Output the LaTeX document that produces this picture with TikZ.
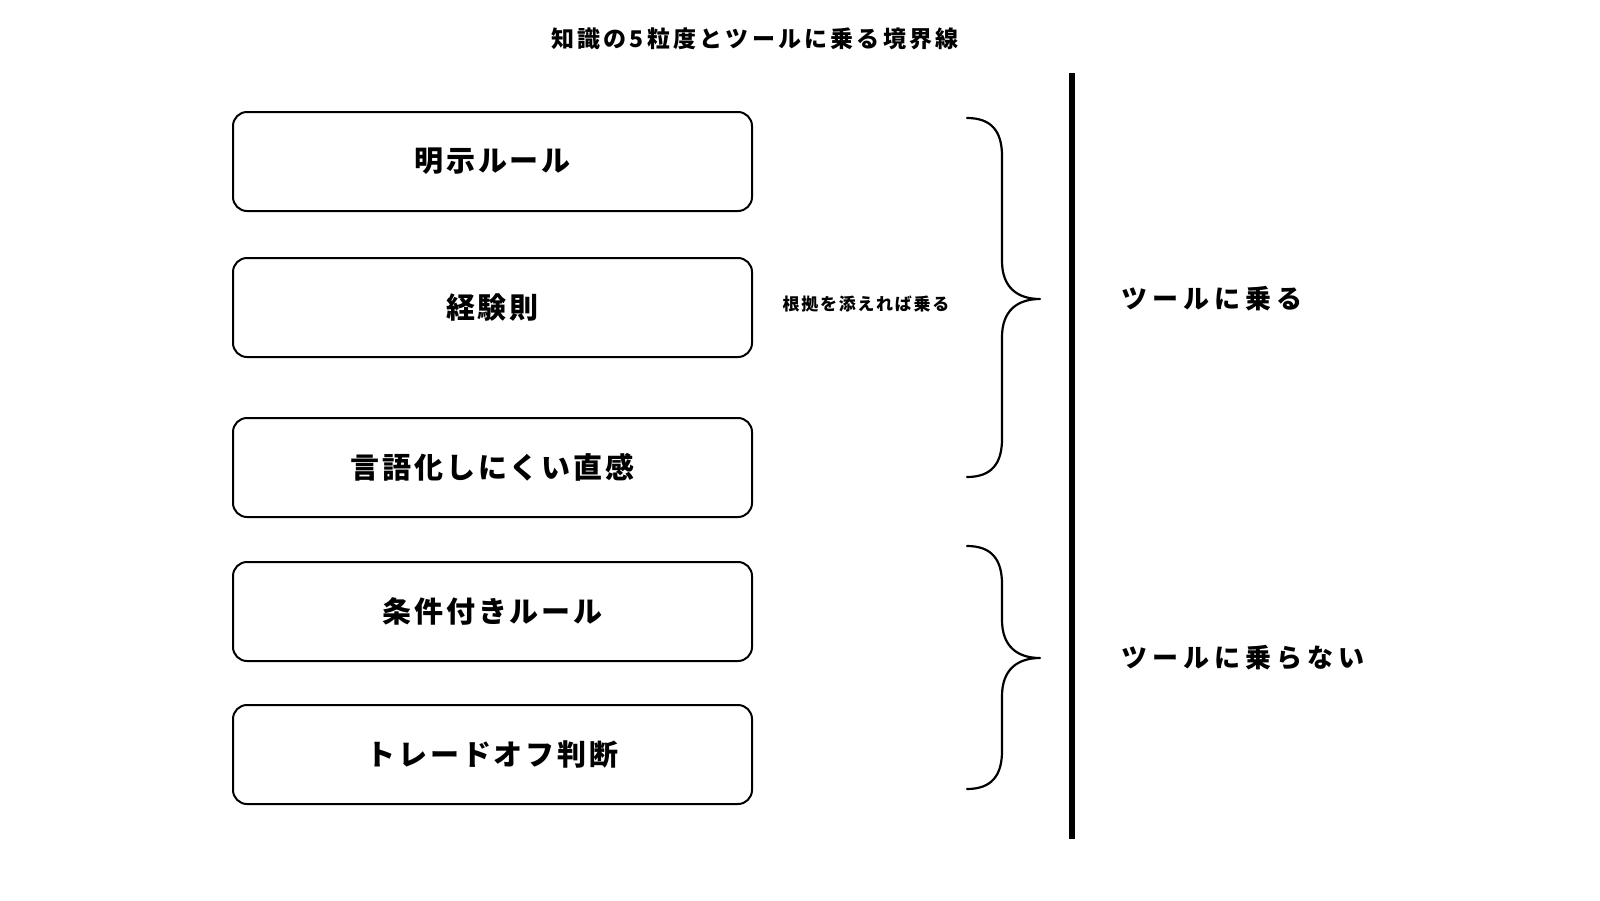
\documentclass[tikz,border=0pt]{standalone}
\usepackage{fontspec}
\setmainfont{Noto Sans CJK JP}[LetterSpace=10]
\newfontfamily\widejp{Noto Sans CJK JP}[LetterSpace=19]
\newfontfamily\titlejp{Noto Sans CJK JP}[LetterSpace=14]
\begin{document}
\begin{tikzpicture}[x=1pt, y=-1pt, line join=round, line cap=round]
	\tikzset{kbox/.style={draw, line width=2pt, rounded corners=14pt, minimum width=519pt, minimum height=99pt, font=\bfseries\fontsize{29}{32}\selectfont},
		kbrace/.style={line width=2.2pt},
		side/.style={font=\widejp\bfseries\fontsize{26}{30}\selectfont, anchor=west}}
	\useasboundingbox (0,0) rectangle (1600,900);
	\node[font=\titlejp\bfseries\fontsize{23}{26}\selectfont] (title) at (755,39) {知識の5粒度とツールに乗る境界線};
	% left column
	\node[kbox] (rule) at (492.5,161.5) {明示ルール};
	\node[kbox] (thumb) at (492.5,307.5) {経験則};
	\node[kbox] (intu) at (492.5,467.5) {言語化しにくい直感};
	\node[kbox] (cond) at (492.5,611.5) {条件付きルール};
	\node[kbox] (trade) at (492.5,754.5) {トレードオフ判断};
	\node[font=\bfseries\fontsize{17}{20}\selectfont] (note) at (866,304) {根拠を添えれば乗る};
	% braces
	\foreach \ya/\ym/\yb in {118/299/477, 546/658/789}{
		\draw[kbrace] (967,\ya) .. controls (992,\ya) and (1002,\ya+14) .. (1002,\ya+38) -- (1002,\ym-38)
			.. controls (1002,\ym-12) and (1017,\ym) .. (1040,\ym)
			.. controls (1017,\ym) and (1002,\ym+12) .. (1002,\ym+38) -- (1002,\yb-38)
			.. controls (1002,\yb-14) and (992,\yb) .. (967,\yb);
	}
	% boundary
	\coordinate (btop) at (1072,73);
	\coordinate (bbot) at (1072,839);
	\draw[line width=6pt, line cap=butt] (btop) -- (bbot);
	\node[side] (on) at (1118,299) {ツールに乗る};
	\node[side] (off) at (1118,658) {ツールに乗らない};
\end{tikzpicture}
\end{document}
